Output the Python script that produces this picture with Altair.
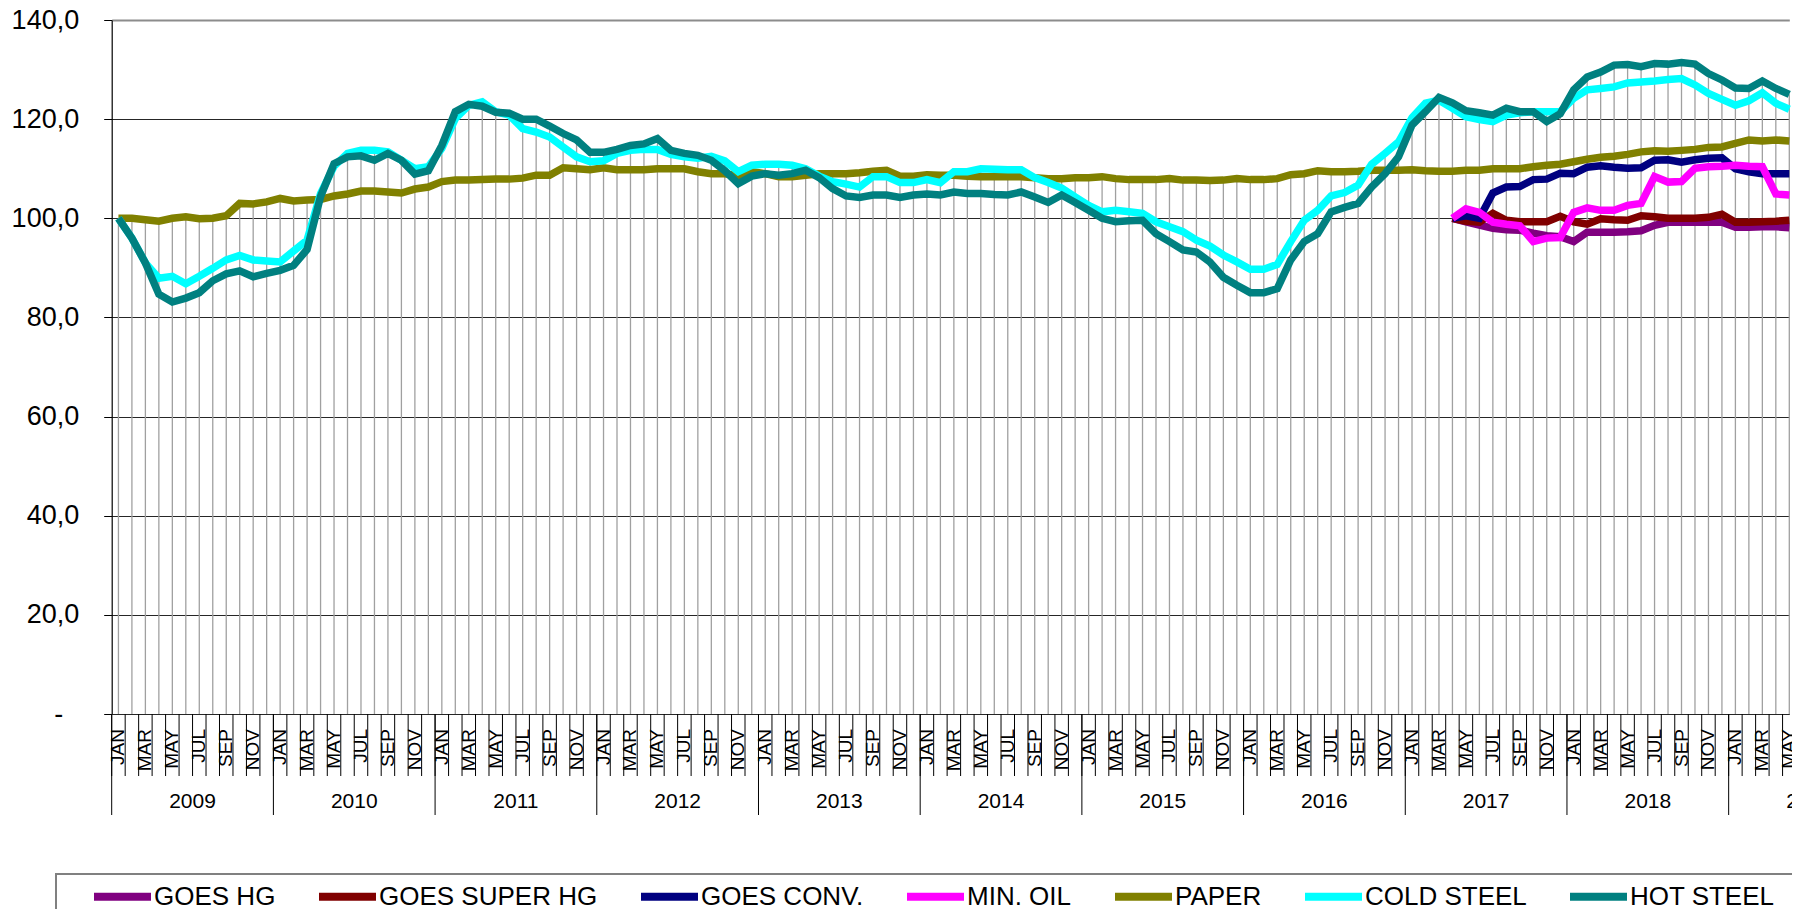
import altair as alt
import pandas as pd

FONT = "Liberation Sans"

MONTHS = ["JAN", "FEB", "MAR", "APR", "MAY", "JUN", "JUL", "AUG", "SEP", "OCT", "NOV", "DEC"]
YEARS = [2009, 2010, 2011, 2012, 2013, 2014, 2015, 2016, 2017, 2018, 2019]
Y_TICKS = [0, 20, 40, 60, 80, 100, 120, 140]

SERIES = ["GOES HG", "GOES SUPER HG", "GOES CONV.", "MIN. OIL", "PAPER", "COLD STEEL", "HOT STEEL"]
COLORS = ["#800080", "#800000", "#000080", "#FF00FF", "#808000", "#00FFFF", "#008080"]

# monthly index values, JAN 2009 .. MAY 2019
HOT_STEEL = [
    100.0, 96.0, 91.0, 84.7, 83.1, 83.9, 85.0, 87.4, 88.8, 89.4, 88.2, 88.9,
    89.5, 90.5, 93.7, 104.4, 111.0, 112.4, 112.6, 111.7, 113.1, 111.7, 108.9, 109.6,
    114.7, 121.5, 123.0, 122.6, 121.4, 121.2, 120.0, 120.0, 118.6, 117.1, 115.8, 113.3,
    113.3, 113.9, 114.7, 115.0, 116.1, 113.7, 113.1, 112.7, 111.7, 109.6, 107.0, 108.5,
    109.0, 108.7, 109.0, 109.7, 108.2, 106.0, 104.5, 104.2, 104.7, 104.7, 104.2, 104.7,
    104.9, 104.7, 105.3, 105.0, 105.0, 104.8, 104.7, 105.3, 104.3, 103.2, 104.7, 103.2,
    101.6, 100.0, 99.3, 99.5, 99.6, 96.9, 95.3, 93.6, 93.2, 91.2, 88.1, 86.5,
    85.0, 85.0, 85.8, 91.6, 95.3, 96.9, 101.3, 102.2, 103.0, 106.3, 109.0, 112.4,
    118.8, 121.5, 124.4, 123.3, 121.7, 121.3, 120.8, 122.2, 121.5, 121.5, 119.5, 121.1,
    125.9, 128.5, 129.5, 130.9, 131.0, 130.6, 131.2, 131.1, 131.4, 131.1, 129.2, 127.9,
    126.3, 126.2, 127.7, 126.2, 125.0,
]
COLD_STEEL = [
    100.0, 96.0, 91.0, 87.9, 88.3, 86.8, 88.3, 89.9, 91.6, 92.5, 91.6, 91.4,
    91.2, 93.4, 95.6, 105.0, 110.5, 113.1, 113.7, 113.7, 113.4, 111.7, 110.0, 110.4,
    114.1, 120.1, 122.8, 123.5, 121.5, 120.8, 118.1, 117.4, 116.4, 114.4, 112.4, 111.4,
    111.6, 113.1, 113.7, 113.9, 113.9, 112.9, 112.4, 112.1, 112.5, 111.6, 109.4, 110.7,
    110.9, 110.9, 110.7, 110.0, 108.5, 107.4, 106.9, 106.3, 108.4, 108.4, 107.2, 107.2,
    107.8, 107.2, 109.4, 109.4, 110.0, 109.9, 109.8, 109.8, 108.2, 107.2, 106.1, 104.3,
    102.6, 101.3, 101.6, 101.3, 101.0, 99.3, 98.3, 97.3, 95.6, 94.4, 92.6, 91.2,
    89.7, 89.7, 90.7, 95.3, 99.6, 101.6, 104.5, 105.2, 106.7, 110.9, 113.1, 115.4,
    120.3, 123.2, 123.8, 122.2, 120.5, 119.9, 119.5, 120.8, 121.3, 121.5, 121.5, 121.5,
    124.2, 125.9, 126.2, 126.5, 127.3, 127.5, 127.7, 128.0, 128.2, 126.9, 125.2, 124.0,
    122.8, 123.7, 125.3, 123.2, 122.0,
]
PAPER = [
    100.0, 100.0, 99.7, 99.4, 100.0, 100.3, 99.9, 100.0, 100.5, 103.0, 102.9, 103.3,
    104.0, 103.5, 103.7, 103.8, 104.5, 104.9, 105.5, 105.5, 105.3, 105.1, 105.9, 106.3,
    107.4, 107.7, 107.7, 107.8, 107.9, 107.9, 108.1, 108.7, 108.7, 110.2, 110.0, 109.8,
    110.2, 109.8, 109.8, 109.8, 110.0, 110.0, 110.0, 109.4, 109.0, 109.0, 108.6, 109.4,
    109.0, 108.4, 108.4, 108.7, 109.0, 109.0, 109.0, 109.2, 109.5, 109.7, 108.5, 108.5,
    108.8, 108.7, 108.7, 108.5, 108.4, 108.4, 108.4, 108.4, 108.2, 108.0, 108.0, 108.2,
    108.2, 108.4, 108.0, 107.8, 107.8, 107.8, 108.0, 107.7, 107.7, 107.6, 107.7, 108.0,
    107.8, 107.8, 108.0, 108.8, 109.0, 109.6, 109.4, 109.4, 109.5, 109.7, 109.7, 109.7,
    109.8, 109.6, 109.5, 109.5, 109.7, 109.7, 110.0, 110.0, 110.0, 110.4, 110.7, 110.9,
    111.4, 111.9, 112.3, 112.5, 112.9, 113.4, 113.6, 113.5, 113.7, 113.9, 114.3, 114.4,
    115.1, 115.8, 115.6, 115.8, 115.6,
]
# these series start in APR 2017 (month index 99)
GOES_START = 99
GOES_HG = [100.0, 99.3, 98.6, 98.0, 97.7, 97.6, 97.0, 96.5, 96.3, 95.3, 97.2, 97.2, 97.2,
           97.3, 97.5, 98.6, 99.2, 99.2, 99.2, 99.2, 99.2, 98.2, 98.2, 98.3, 98.3, 98.1]
GOES_SUPER_HG = [100.0, 99.4, 99.2, 101.0, 99.6, 99.3, 99.3, 99.3, 100.4, 99.3, 98.8, 99.9, 99.7,
                 99.6, 100.5, 100.3, 100.0, 100.0, 100.0, 100.2, 100.8, 99.2, 99.2, 99.3, 99.4, 99.6]
GOES_CONV = [100.0, 100.5, 100.0, 105.1, 106.3, 106.4, 107.8, 107.9, 109.1, 109.0, 110.3, 110.6, 110.3,
             110.1, 110.2, 111.7, 111.8, 111.3, 111.8, 112.1, 112.2, 110.0, 109.4, 109.0, 109.0, 109.0]
MIN_OIL = [100.0, 101.9, 101.2, 99.2, 98.8, 98.5, 95.3, 96.0, 96.1, 101.2, 102.1, 101.6, 101.6,
           102.6, 103.0, 108.4, 107.3, 107.4, 110.1, 110.4, 110.5, 110.7, 110.5, 110.4, 104.9, 104.7]

N_MONTHS = len(HOT_STEEL)

full = {"PAPER": PAPER, "COLD STEEL": COLD_STEEL, "HOT STEEL": HOT_STEEL}
partial = {"GOES HG": GOES_HG, "GOES SUPER HG": GOES_SUPER_HG, "GOES CONV.": GOES_CONV, "MIN. OIL": MIN_OIL}
rows = []
for name in SERIES:
    if name in full:
        for i, v in enumerate(full[name]):
            rows.append({"idx": i, "series": name, "value": v})
    else:
        for j, v in enumerate(partial[name]):
            rows.append({"idx": GOES_START + j, "series": name, "value": v})
df = pd.DataFrame(rows)

cats = pd.DataFrame({
    "idx": list(range(N_MONTHS)),
    "month": [MONTHS[i % 12] for i in range(N_MONTHS)],
})
years_df = pd.DataFrame({"year": [str(y) for y in YEARS], "k": list(range(len(YEARS)))})

W, H = 1677.6, 694

xscale = alt.Scale(domain=[0, N_MONTHS - 0.5], nice=False, zero=False)
yscale = alt.Scale(domain=[0, 140], nice=False, zero=False)

yaxis = alt.Axis(
    values=Y_TICKS, title=None, grid=True,
    gridColor={"condition": {"test": "datum.value === 140", "value": "#8c8c8c"}, "value": "#262626"},
    gridWidth={"condition": {"test": "datum.value === 140", "value": 2}, "value": 1},
    domainColor="black", domainWidth=1.2,
    tickColor="black", tickSize=8, tickWidth=1,
    labelFont=FONT, labelFontSize=27, labelColor="black",
    labelPadding={"condition": {"test": "datum.value === 0", "value": 41}, "value": 25},
    labelExpr="datum.value == 0 ? '-' : replace(format(datum.value, '.1f'), '.', ',')",
)

legend = alt.Legend(
    title=" ", titleOrient="left", titleFontSize=1, titlePadding=44,
    orient="none", legendX=-55.7, legendY=854,
    direction="horizontal", columns=7,
    symbolType="M-1.5405,0H1.5405", symbolSize=1369, symbolStrokeWidth=8, symbolOpacity=1,
    labelFont=FONT, labelFontSize=26, labelColor="black", labelOffset=9, labelLimit=800,
    columnPadding=27, padding=0,
)
color = alt.Color("series:N", scale=alt.Scale(domain=SERIES, range=COLORS), legend=legend)

drop = alt.Chart(df).transform_aggregate(
    mx="max(value)", groupby=["idx"]
).transform_calculate(xc="datum.idx + 0.5").mark_rule(color="#a0a0a0", strokeWidth=1.3).encode(
    x=alt.X("xc:Q", scale=xscale, axis=None),
    y=alt.Y("mx:Q", scale=yscale, axis=yaxis),
    y2=alt.datum(0),
)

layers = [drop]
for name in SERIES:
    layers.append(
        alt.Chart(df).transform_filter(alt.datum.series == name)
        .transform_calculate(xc="datum.idx + 0.5")
        .mark_line(strokeWidth=7.5, strokeJoin="miter")
        .encode(
            x=alt.X("xc:Q", scale=xscale, axis=None),
            y=alt.Y("value:Q", scale=yscale, axis=yaxis),
            color=color,
        )
    )

tick_rules = alt.Chart(cats).mark_rule(color="black", strokeWidth=1).encode(
    x=alt.X("idx:Q", scale=xscale, axis=None),
    y=alt.value(H), y2=alt.value(H + 62),
)
year_rules = alt.Chart(years_df).transform_calculate(b="datum.k * 12").transform_filter(
    "datum.b < %d" % N_MONTHS
).mark_rule(color="black", strokeWidth=1).encode(
    x=alt.X("b:Q", scale=xscale, axis=None),
    y=alt.value(H), y2=alt.value(H + 101),
)
month_labels = alt.Chart(cats).transform_filter("datum.idx % 2 == 0").transform_calculate(
    xc="datum.idx + 0.5"
).mark_text(angle=270, align="right", baseline="middle", font=FONT, fontSize=19, color="black").encode(
    x=alt.X("xc:Q", scale=xscale, axis=None),
    y=alt.value(H + 15),
    text="month:N",
)
year_labels = alt.Chart(years_df).transform_calculate(xc="datum.k * 12 + 6").mark_text(
    align="center", baseline="middle", font=FONT, fontSize=21, color="black"
).encode(
    x=alt.X("xc:Q", scale=xscale, axis=None),
    y=alt.value(H + 88),
    text="year:N",
)

# legend frame (its right and bottom edges run past the picture, as in the source)
frame = alt.Chart(pd.DataFrame({"f": [0]})).mark_rect(
    fill="transparent", stroke="#808080", strokeWidth=2
).encode(
    x=alt.value(-55.7), x2=alt.value(W + 40),
    y=alt.value(854), y2=alt.value(H + 300),
)

layers += [tick_rules, year_rules, month_labels, year_labels, frame]

chart = alt.layer(*layers).properties(
    width=W, height=H,
    padding={"left": 103.7, "top": 12, "right": 2.7, "bottom": 195},
    autosize=alt.AutoSizeParams(type="none"),
    background="white",
).configure_view(stroke=None)

chart.save("out.html", embed_options={"renderer": "svg", "actions": False})
